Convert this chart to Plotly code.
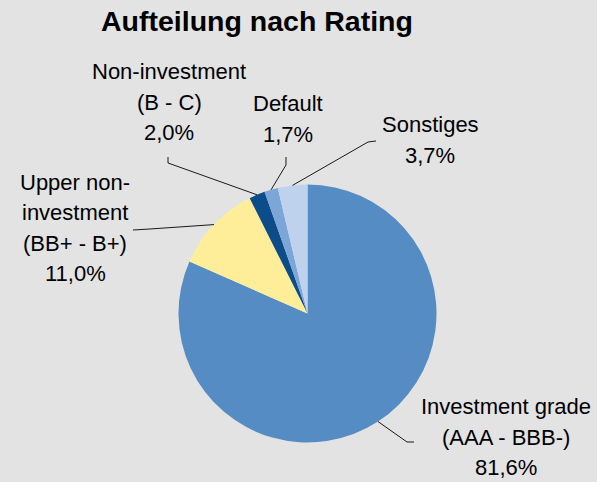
import math
import plotly.graph_objects as go

# ---- data ----
categories = ["Investment grade", "Upper non-investment", "Non-investment", "Default", "Sonstiges"]
label_lines = [
    ["Investment grade", "(AAA - BBB-)"],
    ["Upper non-", "investment", "(BB+ - B+)"],
    ["Non-investment", "(B - C)"],
    ["Default"],
    ["Sonstiges"],
]
values = [81.6, 11.0, 2.0, 1.7, 3.7]
colors = ["#568CC4", "#FFEE99", "#0C4C89", "#7CA6D7", "#BED2EE"]

W, H = 597, 482
BG = "#E3E3E3"

# pie geometry (pixels)
CX, CY, R = 307.5, 313.5, 129.0
LINE_SP = 30.5

def px(x):
    return x / W

def py(y):
    return 1 - y / H

# label block centres (pixels) and leader elbows (pixels)
label_pos = [(506, 437), (75, 228), (169, 102), (287.5, 119), (430, 140)]
elbows = [
    [(414, 442), (407, 442)],
    [(133, 230), (150, 229)],
    [(168, 157), (168, 163)],
    [(286, 157), (286, 165)],
    [(376, 141), (368, 142)],
]

fig = go.Figure(
    go.Pie(
        labels=categories,
        values=values,
        sort=False,
        direction="clockwise",
        rotation=0,
        marker=dict(colors=colors, line=dict(width=0)),
        textinfo="none",
        hoverinfo="label+percent",
        showlegend=False,
        domain=dict(x=[px(CX - R), px(CX + R)], y=[py(CY + R), py(CY - R)]),
    )
)

FONT = dict(family="Liberation Sans, Arial, sans-serif", size=22, color="#000000")

total = sum(values)
cum = 0.0
annotations = []
shapes = []
for i, v in enumerate(values):
    mid = (cum + v / 2) / total
    cum += v
    ang = 2 * math.pi * mid
    ex, ey = CX + R * math.sin(ang), CY - R * math.cos(ang)
    pts = elbows[i] + [(ex, ey)]
    path = "M " + " L ".join(f"{px(a):.5f},{py(b):.5f}" for a, b in pts)
    shapes.append(dict(type="path", path=path, xref="paper", yref="paper",
                       line=dict(color="#1a1a1a", width=1)))
    pct = f"{v:.1f}".replace(".", ",") + "%"
    lines = label_lines[i] + [pct]
    lx, ly = label_pos[i]
    n = len(lines)
    for k, t in enumerate(lines):
        yk = ly + (k - (n - 1) / 2) * LINE_SP
        annotations.append(dict(text=t, x=px(lx), y=py(yk), xref="paper", yref="paper",
                                xanchor="center", yanchor="middle", showarrow=False,
                                align="center", font=FONT))

annotations.append(dict(text="<b>Aufteilung nach Rating</b>", x=px(257), y=py(21), xref="paper", yref="paper",
                        xanchor="center", yanchor="middle", showarrow=False,
                        font=dict(family="Liberation Sans, Arial, sans-serif", size=28.5, color="#000000")))

fig.update_layout(
    width=W, height=H,
    margin=dict(l=0, r=0, t=0, b=0),
    paper_bgcolor=BG, plot_bgcolor=BG,
    annotations=annotations,
    shapes=shapes,
)

fig.write_html("out.html", config={"displayModeBar": False},
               post_script="document.body.style.margin='0';")
